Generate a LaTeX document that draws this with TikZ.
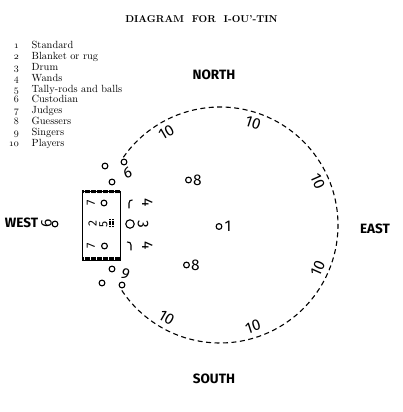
\documentclass[tikz,border=0pt]{standalone}
\usepackage{fontspec}
\newfontfamily\lblfont{Fira Sans}
\newcommand{\osnum}[1]{{\usefont{OML}{cmm}{m}{it}#1}}
\usetikzlibrary{positioning}

\begin{document}
\begin{tikzpicture}[x=1pt,y=1pt,
	spot/.style={circle,draw,line width=1.1pt,inner sep=0pt,minimum size=5.8pt},
	numlbl/.style={font=\lblfont\fontsize{15.5}{15.5}\selectfont,inner sep=0pt},
	rugnum/.style={font=\lblfont\fontsize{12}{12}\selectfont,inner sep=0pt,rotate=90},
	compass/.style={font=\lblfont\bfseries\fontsize{13.5}{13.5}\selectfont,inner sep=0pt,anchor=base},
	keytext/.style={font=\fontsize{10.4}{12}\selectfont,inner sep=0pt}]
	\useasboundingbox (0,0) rectangle (402,412);
	\node[anchor=base,inner sep=0pt,font=\bfseries\fontsize{10}{12}\selectfont] (title) at (201.5,389) {DIAGRAM\ \ FOR\ \ I-OU\textquoteright-TIN};
	% key
	\foreach \n/\t [count=\i] in {1/Standard,2/Blanket or rug,3/Drum,4/Wands,5/Tally-rods and balls,6/Custodian,7/Judges,8/Guessers,9/Singers,10/Players}
	{\node[keytext,anchor=base east] (num\i) at (19,{363-10.8*(\i-1)}) {\osnum{\n}};
	 \node[keytext,anchor=base west] (key\i) at (31.5,{363-10.8*(\i-1)}) {\t};}
	% points of the compass
	\node[compass] (north) at (214,332) {NORTH};
	\node[compass] (south) at (214,28) {SOUTH};
	\node[compass] (east) at (375,178) {EAST};
	\node[compass] (west) at (21.5,184) {WEST};
	% ring of players
	\coordinate (ring) at (220,187);
	\draw[line width=1.1pt,dash pattern=on 5pt off 3.5pt] (ring) ++(145:118) arc[start angle=145,end angle=-147,radius=118];
	\foreach \a/\r [count=\i] in {120/30,72/-18,24/-66,-24/66,-72/18,-120/-30}
	\node[numlbl,rotate=\r] (p\i) at ([shift={(\a:107)}]ring) {10};
	% standard and guessers
	\node[spot] (std) at (219,185.5) {};
	\node[numlbl,right=2pt of std] (stdn) {1};
	\node[spot] (gu1) at (188.5,232) {};
	\node[numlbl,right=1pt of gu1] (gun1) {8};
	\node[spot] (gu2) at (186.5,147) {};
	\node[numlbl,right=1pt of gu2] (gun2) {8};
	% blanket
	\draw[line width=0.8pt] (82.5,152) rectangle (120.5,221);
	\foreach \x in {82.5,83.7,...,120.5}
	{\draw[line width=0.5pt] (\x,218.5) -- (\x,222);
	 \draw[line width=0.5pt] (\x,151) -- (\x,154.5);}
	\node[rugnum] (jn1) at (91,209) {7};
	\node[spot] (jd1) at (104,209) {};
	\node[rugnum] (blk) at (92.5,188) {2};
	\node[rugnum] (tal) at (103.5,188) {5};
	\foreach \x in {108.8,110.3,111.8,113.3}
	\draw[line width=0.5pt,dash pattern=on 1.6pt off 0.8pt] (\x,184.5) -- (\x,192.5);
	\node[rugnum] (jn2) at (91,166) {7};
	\node[spot] (jd2) at (104.5,166) {};
	% drum and wands
	\node[spot,minimum size=8.5pt] (drum) at (130,188) {};
	\node[numlbl,rotate=-90] (drumn) at (143,188) {3};
	\draw[line width=1.1pt] (129,203.5) -- (129,209) .. controls (129,211.5) and (130.5,212) .. (132.5,212);
	\draw[line width=1.1pt] (131,161.5) -- (131,167) .. controls (131,169.5) and (129.5,170) .. (127,170);
	\node[numlbl,rotate=-90] (wn1) at (147.5,209) {4};
	\node[numlbl,rotate=-90] (wn2) at (147.5,166) {4};
	% custodian
	\node[spot] (cu) at (55,188) {};
	\node[numlbl,rotate=90] (cun) at (46.5,189) {6};
	% singers
	\node[spot] (si1) at (105,246) {};
	\node[spot] (si2) at (124,250) {};
	\node[spot] (si3) at (112,230) {};
	\node[numlbl,rotate=200] (sin1) at (127.5,239) {9};
	\node[spot] (si4) at (112,143) {};
	\node[spot] (si5) at (102,129) {};
	\node[spot] (si6) at (122,127) {};
	\node[numlbl,rotate=-20] (sin2) at (125.5,138) {9};
\end{tikzpicture}
\end{document}
